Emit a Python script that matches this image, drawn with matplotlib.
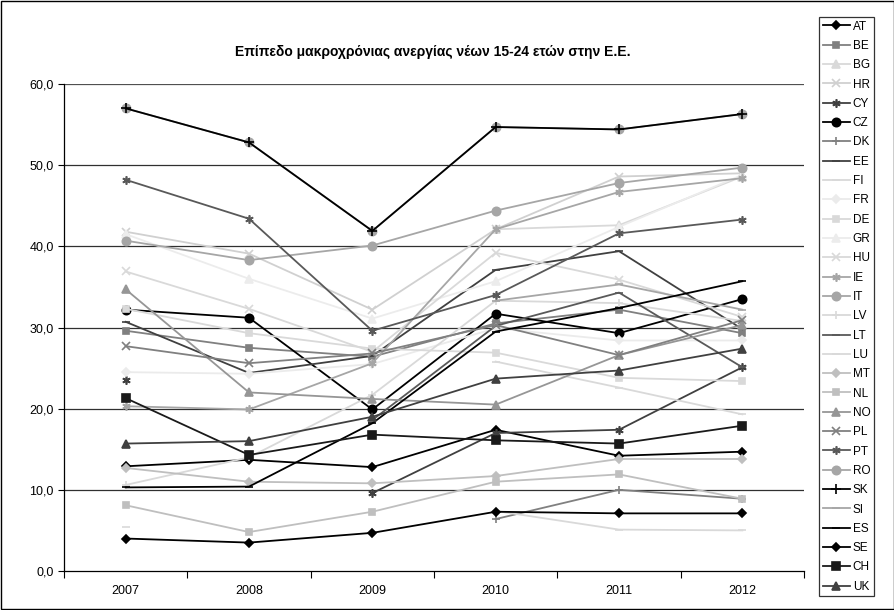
import numpy as np
import matplotlib
matplotlib.use('Agg')
import matplotlib.pyplot as plt
from matplotlib.patches import Rectangle

plt.rcParams['font.family'] = ['Liberation Sans', 'DejaVu Sans']

nan = np.nan

# data
years = ['2007', '2008', '2009', '2010', '2011', '2012']

AT = [12.9, 13.7, 12.8, 17.4, 14.2, 14.7]
BE = [29.6, 27.5, 26.4, 30.5, 32.2, 29.3]
BG = [nan, nan, nan, 42.1, 42.6, 48.6]
HR = [41.8, 39.1, 32.2, 42.1, 48.6, 49.0]
CY = [23.5, nan, 9.6, 17.0, 17.4, 25.1]
CZ = [32.2, 31.2, 19.9, 31.7, 29.3, 33.5]
DK = [nan, nan, nan, 6.4, 10.0, 8.9]
EE = [30.7, 24.4, 26.5, 37.1, 39.4, 29.8]
FI = [5.4, nan, nan, 7.4, 5.1, 5.0]
FR = [24.5, 24.3, 25.5, 29.9, 28.4, 28.4]
DE = [32.3, 29.3, 27.4, 26.9, 23.8, 23.4]
GR = [41.5, 36.0, 31.1, 35.7, 42.4, 48.8]
HU = [36.9, 32.3, 27.0, 39.2, 35.9, 31.3]
IE = [20.3, 19.9, 25.6, 42.1, 46.7, 48.4]
IT = [40.7, 38.3, 40.1, 44.4, 47.8, 49.7]
LV = [10.6, 14.0, 21.7, 33.3, 33.0, 30.8]
LT = [nan, nan, 18.6, 30.2, 34.3, 25.1]
LU = [nan, nan, nan, 25.8, 22.6, 19.3]
MT = [12.7, 11.0, 10.8, 11.7, 13.8, 13.8]
NL = [8.1, 4.8, 7.3, 11.0, 11.9, 8.9]
NO = [34.7, 22.0, 21.2, 20.5, 26.6, 30.3]
PL = [27.7, 25.6, 26.8, 30.3, 26.6, 30.9]
PT = [48.2, 43.4, 29.6, 34.0, 41.6, 43.3]
RO = [57.0, 52.8, 41.9, 54.7, 54.4, 56.3]
SK = [57.0, 52.8, 41.9, 54.7, 54.4, 56.3]
SI = [nan, nan, nan, 33.3, 35.3, 32.2]
ES = [10.3, 10.4, 18.2, 29.5, 32.4, 35.7]
SE = [4.0, 3.5, 4.7, 7.3, 7.1, 7.1]
CH = [21.3, 14.3, 16.8, 16.1, 15.7, 17.9]
UK = [15.7, 16.0, 19.0, 23.7, 24.7, 27.4]

star = (6, 2, 0)

# (label, values, colour, marker, marker size)
series = [
    ('AT', AT, '#000000', 'D', 4.5),
    ('BE', BE, '#808080', 's', 5),
    ('BG', BG, '#d9d9d9', '^', 5.5),
    ('HR', HR, '#d0d0d0', 'x', 5.5),
    ('CY', CY, '#404040', star, 6),
    ('CZ', CZ, '#000000', 'o', 6),
    ('DK', DK, '#808080', '+', 6),
    ('EE', EE, '#404040', '_', 6),
    ('FI', FI, '#d9d9d9', '_', 6),
    ('FR', FR, '#ebebeb', 'D', 4.5),
    ('DE', DE, '#d9d9d9', 's', 5),
    ('GR', GR, '#ececec', '^', 5.5),
    ('HU', HU, '#d9d9d9', 'x', 5.5),
    ('IE', IE, '#a6a6a6', star, 6),
    ('IT', IT, '#a6a6a6', 'o', 6),
    ('LV', LV, '#d9d9d9', '+', 6),
    ('LT', LT, '#595959', '_', 6),
    ('LU', LU, '#d9d9d9', '_', 6),
    ('MT', MT, '#bfbfbf', 'D', 4.5),
    ('NL', NL, '#bfbfbf', 's', 5),
    ('NO', NO, '#969696', '^', 5.5),
    ('PL', PL, '#808080', 'x', 5.5),
    ('PT', PT, '#595959', star, 6),
    ('RO', RO, '#a6a6a6', 'o', 6),
    ('SK', SK, '#000000', '+', 7),
    ('SI', SI, '#a6a6a6', '_', 6),
    ('ES', ES, '#000000', '_', 6),
    ('SE', SE, '#000000', 'D', 4.5),
    ('CH', CH, '#1a1a1a', 's', 5.5),
    ('UK', UK, '#404040', '^', 5.5),
]

fig = plt.figure(figsize=(8.95, 6.1), dpi=100)
ax = fig.add_axes([64 / 895, 39 / 610, 740 / 895, 487 / 610])

x = np.arange(len(years))
for name, vals, col, mk, ms in series:
    ax.plot(x, vals, color=col, marker=mk, markersize=ms, linewidth=1.3,
            markeredgewidth=1.2, label=name)

ax.set_xlim(-0.5, len(years) - 0.5)
ax.set_ylim(0, 60)
ax.set_yticks(np.arange(0, 61, 10))
ax.set_yticklabels([f'{v:.1f}'.replace('.', ',') for v in np.arange(0, 61, 10)])
ax.set_xticks(x)
ax.set_xticklabels(years)
ax.set_xticks(np.arange(-0.5, len(years), 1), minor=True)
ax.tick_params(axis='x', which='major', length=0, pad=10, labelsize=9)
ax.tick_params(axis='x', which='minor', length=5, width=0.8, direction='out')
ax.tick_params(axis='y', length=4, width=0.8, direction='out', labelsize=9)

for v in range(10, 61, 10):
    ax.axhline(v, color='#505050' if v == 60 else '#303030', linewidth=0.9, zorder=0)
ax.spines['top'].set_visible(False)
ax.spines['right'].set_visible(False)
ax.spines['left'].set_linewidth(0.9)
ax.spines['bottom'].set_linewidth(0.9)

fig.text(433 / 895, 1 - 52 / 610, 'Επίπεδο μακροχρόνιας ανεργίας νέων 15-24 ετών στην Ε.Ε.',
         ha='center', va='center', fontsize=10, fontweight='bold')

leg = fig.legend(loc='upper left', bbox_to_anchor=(819 / 895, 1 - 17 / 610),
                 fontsize=8.5, frameon=True, fancybox=False, edgecolor='black',
                 labelspacing=0.62, handlelength=2.3, handletextpad=0.25,
                 borderpad=0.3, borderaxespad=0)
leg.get_frame().set_linewidth(0.9)

fig.patches.append(Rectangle((0.001, 0.001), 0.998, 0.998, transform=fig.transFigure,
                             fill=False, edgecolor='black', linewidth=1))

fig.savefig('out.png', dpi=100)
